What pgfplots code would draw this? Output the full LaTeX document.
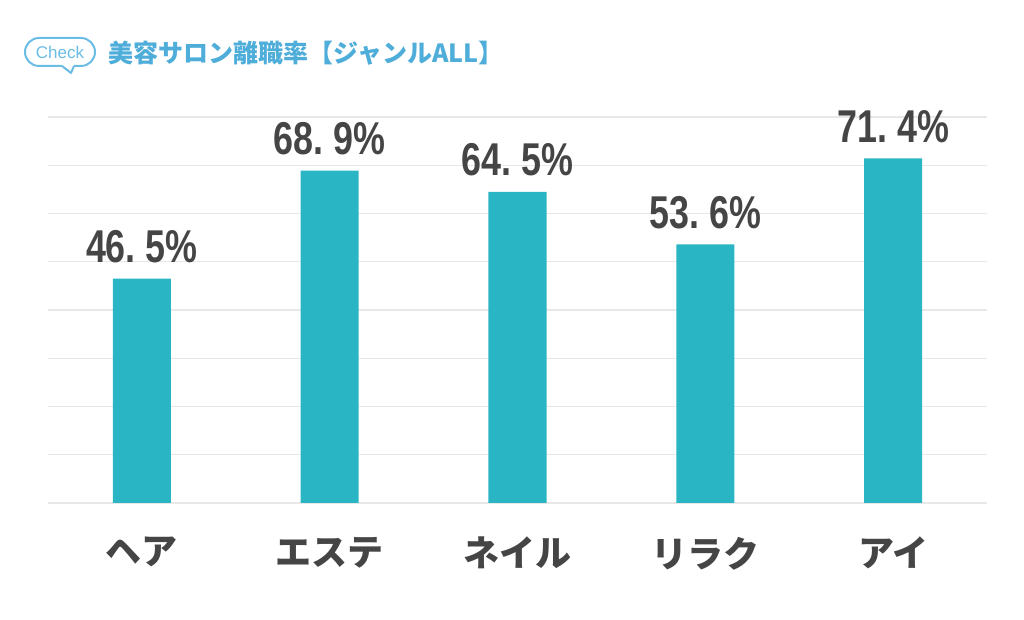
\documentclass[border=0pt]{standalone}
\usepackage{fontspec}
\usepackage{pgfplots}
\pgfplotsset{compat=1.18}
\setmainfont{Liberation Sans}
\newfontfamily\jp{Noto Sans CJK JP}
\newfontfamily\numfont[FakeStretch=0.78]{Liberation Sans}
\definecolor{barc}{HTML}{2AB5C5}
\definecolor{titc}{HTML}{4FADDA}
\definecolor{chk}{HTML}{6BBDE3}
\definecolor{lab}{HTML}{454545}
\definecolor{gridc}{HTML}{E8E8E8}
\begin{document}
\begin{tikzpicture}
\useasboundingbox (0,0) rectangle (512pt,310pt);
% check bubble
\draw[chk, line width=1pt, rounded corners=7pt] (31pt,277pt) -- (12.5pt,277pt) -- (12.5pt,291pt) -- (47.5pt,291pt) -- (47.5pt,277pt) -- (37pt,277pt);
\draw[chk, line width=1pt, line join=round] (31pt,277pt) -- (35.5pt,273.5pt) -- (37pt,277pt);
\node[chk, font=\fontsize{8.5}{9}\selectfont, inner sep=0] at (30pt,284pt) {Check};
\node[titc, anchor=west, inner sep=0, font=\jp\bfseries\fontsize{12.5}{14}\selectfont] at (54pt,283.5pt) {美容サロン離職率【ジャンルALL】};
\begin{axis}[
  at={(24pt,58.5pt)}, anchor=south west,
  scale only axis, width=469.5pt, height=193pt,
  xmin=-0.5, xmax=4.5, ymin=0, ymax=80,
  axis line style={draw=none},
  ytick={0,10,...,80}, yticklabels={},
  ymajorgrids, major grid style={gridc, line width=0.55pt},
  xtick={0,1,2,3,4},
  xticklabels={ヘア,エステ,ネイル,リラク,アイ},
  xticklabel style={font=\jp\bfseries\fontsize{18}{20}\selectfont, text=lab, yshift=-13.5pt},
  major tick length=0pt,
  clip=false,
]
\addplot[ybar, bar width=29pt, fill=barc, draw=none,
  point meta=explicit symbolic,
  nodes near coords,
  every node near coord/.append style={anchor=base, inner sep=0, yshift=8pt, text=lab, font=\numfont\bfseries\fontsize{23}{25}\selectfont},
] coordinates {
  (0,46.5) [46.\kern5pt 5\%]
  (1,68.9) [68.\kern5pt 9\%]
  (2,64.5) [64.\kern5pt 5\%]
  (3,53.6) [53.\kern5pt 6\%]
  (4,71.4) [71.\kern5pt 4\%]
};
\end{axis}
\end{tikzpicture}
\end{document}
